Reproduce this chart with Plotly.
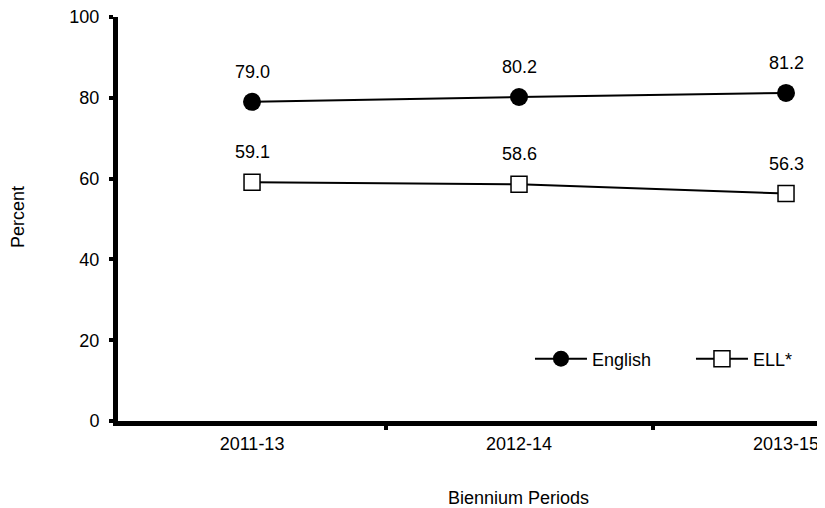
import plotly.graph_objects as go

periods = ["2011-13", "2012-14", "2013-15"]
english = [79.0, 80.2, 81.2]
ell = [59.1, 58.6, 56.3]
y_ticks = [0, 20, 40, 60, 80, 100]

xpos = list(range(len(periods)))
FS = 18
font = dict(family="Liberation Sans, Arial, sans-serif", size=FS, color="black")

fig = go.Figure()
fig.add_trace(go.Scatter(
    x=xpos, y=english, name="English", mode="lines+markers",
    line=dict(color="black", width=2),
    marker=dict(symbol="circle", size=18, color="black"),
    cliponaxis=False, legendwidth=94,
))
fig.add_trace(go.Scatter(
    x=xpos, y=ell, name="ELL*", mode="lines+markers",
    line=dict(color="black", width=2),
    marker=dict(symbol="square", size=16, color="white",
                line=dict(color="black", width=1.5)),
    cliponaxis=False,
))

annotations = []
for series in (english, ell):
    for xi, v in zip(xpos, series):
        annotations.append(dict(
            x=xi, y=v, xref="x", yref="y", text=f"{v:.1f}", showarrow=False,
            yshift=30, font=font, xanchor="center", yanchor="middle"))

annotations += [
    dict(text="Percent", xref="paper", yref="paper", x=-0.1414, y=0.505,
         textangle=-90, showarrow=False, font=font,
         xanchor="center", yanchor="middle"),
    dict(text="Biennium Periods", xref="paper", yref="paper", x=0.566, y=-0.19,
         showarrow=False, font=font, xanchor="center", yanchor="middle"),
]

fig.update_layout(
    width=817, height=500,
    margin=dict(l=110, r=0, t=9, b=87, autoexpand=False),
    paper_bgcolor="white", plot_bgcolor="white",
    font=font,
    showlegend=True,
    legend=dict(orientation="h", x=0.5827, y=0.1535, xanchor="left", yanchor="middle",
                font=font, bgcolor="rgba(0,0,0,0)", itemwidth=52,
                tracegroupgap=0),
    xaxis=dict(
        range=[-0.502, 2.146], tickvals=xpos, ticktext=periods,
        ticks="", showgrid=False, zeroline=False,
        showline=True, linecolor="black", linewidth=5,
        tickfont=font, ticklabelstandoff=2, ticklabeloverflow="allow",
        minor=dict(tickvals=[0.5, 1.5], ticks="outside", ticklen=4,
                   tickwidth=4, tickcolor="black", showgrid=False),
    ),
    yaxis=dict(
        range=[0, 100], tickvals=y_ticks, ticks="outside", ticklen=4,
        tickwidth=4, tickcolor="black", showgrid=False, zeroline=False,
        showline=True, linecolor="black", linewidth=5, tickfont=font,
        ticklabelstandoff=6, ticklabeloverflow="allow",
    ),
    annotations=annotations,
)

fig.write_html("out.html")
